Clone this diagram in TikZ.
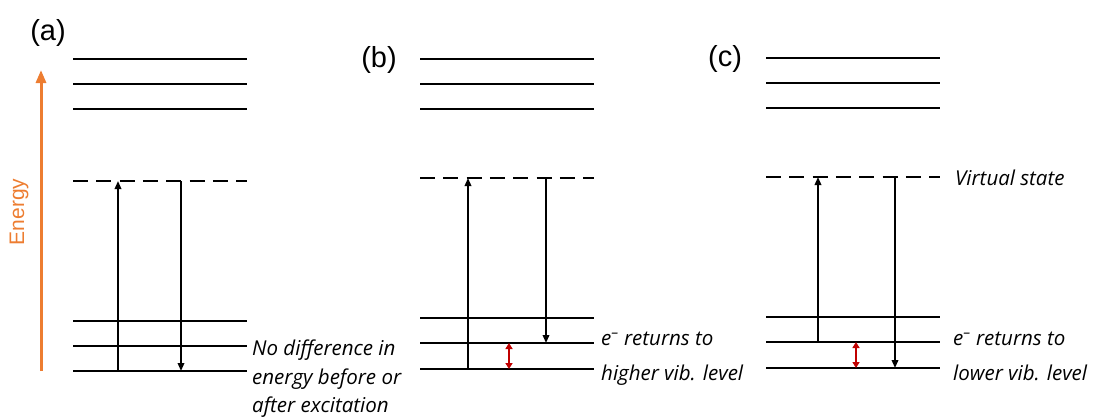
\documentclass[tikz,border=0pt]{standalone}
\usepackage{fontspec}
\setmainfont{Liberation Sans}
\newfontfamily\notefont{Open Sans}
\usetikzlibrary{arrows.meta}
\definecolor{enOrange}{RGB}{237,125,49}
\definecolor{gapRed}{RGB}{192,0,0}

\begin{document}
\begin{tikzpicture}[x=1pt, y=-1pt,
  level/.style={line width=2.8pt},
  virtual/.style={line width=2.8pt, dash pattern=on 15pt off 8.3pt},
  trans/.style={line width=1.8pt, -{Triangle[length=8pt,width=6.5pt]}},
  gap/.style={line width=2.2pt, gapRed, {Triangle[length=6pt,width=7pt]}-{Triangle[length=6pt,width=7pt]}},
  note/.style={font=\notefont\itshape\fontsize{20.5}{20.5}\selectfont, anchor=base west, inner sep=0pt},
  tag/.style={font=\fontsize{29}{29}\selectfont, inner sep=0pt}]
  \useasboundingbox (0,0) rectangle (1098,416);

  % energy axis
  \coordinate (eS) at (41,371);
  \coordinate (eE) at (41,70);
  \draw[enOrange, line width=3pt, -{Triangle[length=13pt,width=10pt]}] (eS) -- (eE);
  \node[enOrange, rotate=90, font=\fontsize{21}{21}\selectfont] (energy) at (19,212) {Energy};

  % (a)
  \node[tag] (tagA) at (48,33) {(a)};
  \coordinate (aL0) at (73,371); \coordinate (aL1) at (73,346); \coordinate (aL2) at (73,321);
  \coordinate (aV) at (73,181);
  \coordinate (aUx) at (118,0); \coordinate (aDx) at (181,0);
  \foreach \y in {59,84,109} \draw[level] (73,\y) -- (247,\y);
  \draw[virtual] (aV) -- ++(174,0);
  \foreach \c in {aL0,aL1,aL2} \draw[level] (\c) -- ++(174,0);
  \draw[trans] (aUx |- aL0) -- (aUx |- aV);
  \draw[trans] (aDx |- aV) -- (aDx |- aL0);
  \node[note] (aN1) at (252,355) {No difference in};
  \node[note] (aN2) at (252,384) {energy before or};
  \node[note] (aN3) at (252,412) {after excitation};

  % (b)
  \node[tag] (tagB) at (379,60) {(b)};
  \coordinate (bL0) at (420,369); \coordinate (bL1) at (420,343); \coordinate (bL2) at (420,318);
  \coordinate (bV) at (420,178);
  \coordinate (bUx) at (468,0); \coordinate (bDx) at (546,0); \coordinate (bGx) at (509,0);
  \foreach \y in {59,84,109} \draw[level] (420,\y) -- (594,\y);
  \draw[virtual] (bV) -- ++(174,0);
  \foreach \c in {bL0,bL1,bL2} \draw[level] (\c) -- ++(174,0);
  \draw[trans] (bUx |- bL0) -- (bUx |- bV);
  \draw[trans] (bDx |- bV) -- (bDx |- bL1);
  \draw[gap] (bGx |- bL1) -- (bGx |- bL0);
  \node[note] (bN1) at (601,345) {e\textsuperscript{–} returns to};
  \node[note] (bN2) at (601,380) {higher vib. level};

  % (c)
  \node[tag] (tagC) at (725,59) {(c)};
  \coordinate (cL0) at (766,368); \coordinate (cL1) at (766,342); \coordinate (cL2) at (766,317);
  \coordinate (cV) at (766,177);
  \coordinate (cUx) at (818,0); \coordinate (cDx) at (895,0); \coordinate (cGx) at (856,0);
  \foreach \y in {58,83,108} \draw[level] (766,\y) -- (940,\y);
  \draw[virtual] (cV) -- ++(174,0);
  \foreach \c in {cL0,cL1,cL2} \draw[level] (\c) -- ++(174,0);
  \draw[trans] (cUx |- cL1) -- (cUx |- cV);
  \draw[trans] (cDx |- cV) -- (cDx |- cL0);
  \draw[gap] (cGx |- cL1) -- (cGx |- cL0);
  \node[note] (vState) at (955,185) {Virtual state};
  \node[note] (cN1) at (953,345) {e\textsuperscript{–} returns to};
  \node[note] (cN2) at (953,380) {lower vib. level};
\end{tikzpicture}
\end{document}
